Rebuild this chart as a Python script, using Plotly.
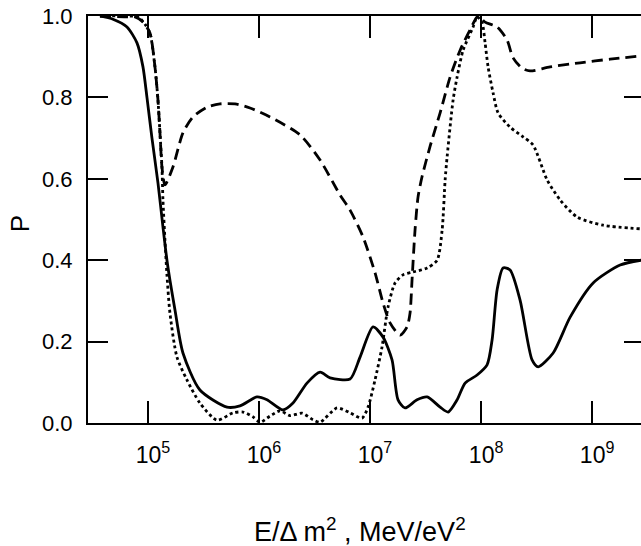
import plotly.graph_objects as go

# log10(E/dm^2) and probability values
solid_logE = [4.568, 4.685, 4.811, 4.901, 4.955, 4.991, 5.036, 5.090, 5.135, 5.171, 5.198, 5.243,
              5.315, 5.468, 5.712, 5.829, 5.982, 6.072, 6.216, 6.306, 6.432, 6.550, 6.640, 6.820,
              6.910, 7.027, 7.117, 7.198, 7.252, 7.315, 7.423, 7.514, 7.631, 7.703, 7.784, 7.856,
              7.964, 8.054, 8.099, 8.144, 8.198, 8.261, 8.351, 8.459, 8.514, 8.649, 8.802, 9.009,
              9.252, 9.441]
solid_P = [1.000, 0.992, 0.973, 0.934, 0.875, 0.800, 0.700, 0.590, 0.482, 0.400, 0.351, 0.278,
           0.172, 0.081, 0.039, 0.042, 0.064, 0.057, 0.032, 0.049, 0.098, 0.125, 0.111, 0.108,
           0.162, 0.236, 0.211, 0.155, 0.057, 0.037, 0.057, 0.064, 0.039, 0.027, 0.057, 0.098,
           0.118, 0.143, 0.204, 0.327, 0.381, 0.376, 0.302, 0.155, 0.138, 0.172, 0.260, 0.344,
           0.388, 0.400]

dashed_logE = [4.568, 4.820, 4.883, 4.955, 5.018, 5.063, 5.090, 5.108, 5.126, 5.153, 5.225, 5.315,
               5.405, 5.532, 5.649, 5.784, 5.919, 6.099, 6.369, 6.550, 6.730, 6.820, 6.937, 7.045,
               7.117, 7.180, 7.270, 7.333, 7.360, 7.378, 7.405, 7.432, 7.468, 7.541, 7.631, 7.721,
               7.811, 7.901, 7.973, 8.036, 8.144, 8.234, 8.288, 8.369, 8.441, 8.622, 8.892, 9.162,
               9.441]
dashed_P = [1.000, 0.998, 0.998, 0.985, 0.958, 0.875, 0.794, 0.713, 0.629, 0.585, 0.629, 0.713,
            0.752, 0.776, 0.784, 0.784, 0.774, 0.752, 0.708, 0.646, 0.560, 0.523, 0.457, 0.369,
            0.295, 0.246, 0.216, 0.236, 0.270, 0.351, 0.474, 0.555, 0.605, 0.680, 0.762, 0.850,
            0.916, 0.966, 1.000, 0.985, 0.973, 0.941, 0.897, 0.872, 0.865, 0.875, 0.885, 0.894,
            0.902]

dotted_logE = [4.568, 4.820, 4.910, 4.973, 5.018, 5.063, 5.090, 5.108, 5.126, 5.135, 5.153, 5.171,
               5.198, 5.261, 5.351, 5.468, 5.622, 5.766, 5.856, 5.946, 6.009, 6.099, 6.189, 6.279,
               6.387, 6.486, 6.550, 6.703, 6.820, 6.928, 6.982, 7.045, 7.108, 7.162, 7.225, 7.297,
               7.387, 7.514, 7.604, 7.649, 7.676, 7.694, 7.748, 7.784, 7.838, 7.928, 7.964, 8.009,
               8.036, 8.063, 8.108, 8.153, 8.261, 8.378, 8.468, 8.595, 8.712, 8.865, 9.099, 9.441]
dotted_P = [1.000, 1.000, 0.998, 0.980, 0.958, 0.875, 0.794, 0.713, 0.629, 0.548, 0.450, 0.364,
            0.270, 0.162, 0.106, 0.049, 0.007, 0.025, 0.027, 0.015, 0.002, 0.017, 0.030, 0.018,
            0.024, 0.008, 0.002, 0.037, 0.025, 0.012, 0.039, 0.106, 0.187, 0.285, 0.344, 0.364,
            0.371, 0.381, 0.400, 0.474, 0.597, 0.654, 0.794, 0.850, 0.916, 0.973, 0.998, 0.983,
            0.934, 0.875, 0.811, 0.762, 0.727, 0.703, 0.683, 0.597, 0.548, 0.506, 0.486, 0.477]

x_tick_exps = [5, 6, 7, 8, 9]
y_ticks = [0.0, 0.2, 0.4, 0.6, 0.8, 1.0]

FONT = "Liberation Sans, Arial, sans-serif"

fig = go.Figure()
for lx, p, dash in [(solid_logE, solid_P, "solid"),
                    (dashed_logE, dashed_P, "11px,6px"),
                    (dotted_logE, dotted_P, "dot")]:
    fig.add_trace(go.Scatter(x=[10 ** v for v in lx], y=p, mode="lines",
                             line=dict(color="black", width=2.8, dash=dash,
                                       shape="spline", smoothing=0.7),
                             showlegend=False, hoverinfo="skip"))

# invisible trace for the right-side tick marks
fig.add_trace(go.Scatter(x=[10 ** 5], y=[0], yaxis="y2", mode="markers",
                         marker=dict(opacity=0), showlegend=False, hoverinfo="skip"))

fig.update_layout(
    width=641, height=546,
    margin=dict(l=88, r=0, t=16, b=123),
    paper_bgcolor="white", plot_bgcolor="white",
    font=dict(family=FONT, color="black", size=22),
    xaxis=dict(type="log", range=[4.46, 9.44],
               tickvals=[10 ** e for e in x_tick_exps],
               ticktext=[f"10<sup>{e}</sup>" for e in x_tick_exps],
               ticks="inside", ticklen=22, tickwidth=1.5, tickcolor="black",
               showline=True, linecolor="black", linewidth=2, mirror="ticks",
               showgrid=False, zeroline=False, ticklabelstandoff=10,
               ticklabelshift=5, tickfont=dict(size=23)),
    yaxis=dict(range=[0, 1], tickvals=y_ticks, tickformat=".1f",
               ticks="inside", ticklen=20, tickwidth=1.5, tickcolor="black",
               showline=True, linecolor="black", linewidth=2, mirror=False,
               showgrid=False, zeroline=False, ticklabelstandoff=9,
               tickfont=dict(size=22)),
    yaxis2=dict(range=[0, 1], tickvals=y_ticks, overlaying="y", side="right",
                ticks="inside", ticklen=17, tickwidth=1.5, tickcolor="black",
                showline=False, showticklabels=False, showgrid=False, zeroline=False),
    annotations=[
        dict(text="P", x=-0.123, y=0.491, xref="paper", yref="paper", showarrow=False,
             textangle=-90, font=dict(size=26), xanchor="center", yanchor="middle"),
        dict(text="E/\u0394 m<sup>2</sup> , MeV/eV<sup>2</sup>", x=0.492, y=-0.263,
             xref="paper", yref="paper", showarrow=False, font=dict(size=27),
             xanchor="center", yanchor="middle"),
    ],
)

fig.write_html("out.html", config={"displayModeBar": False},
               post_script="document.body.style.margin='0';document.body.style.overflow='hidden';")
